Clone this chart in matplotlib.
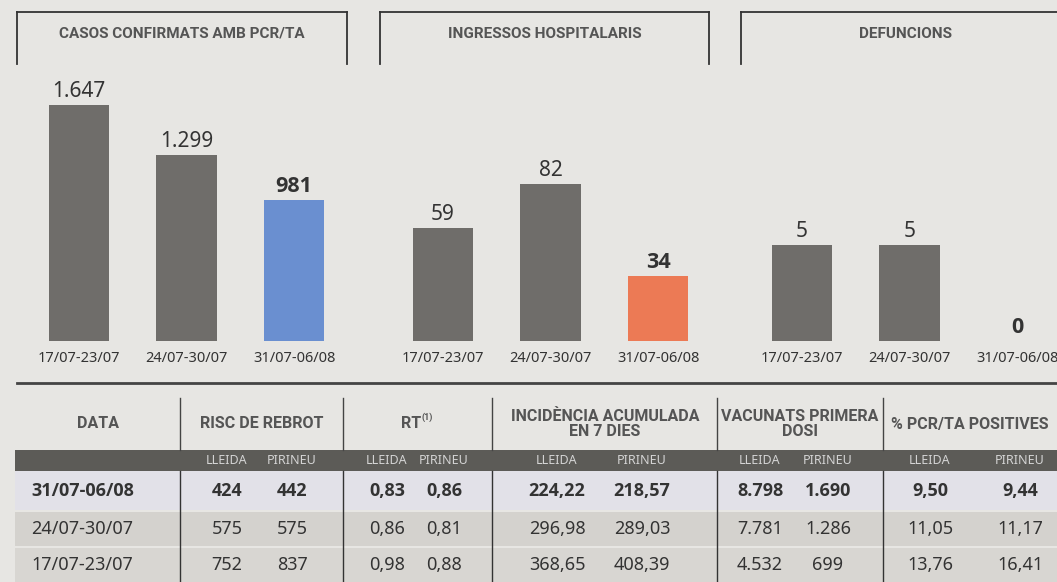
import matplotlib.pyplot as plt
from matplotlib.patches import Rectangle

# Data
weeks = ['17/07-23/07', '24/07-30/07', '31/07-06/08']
casos = [1647, 1299, 981]
ingressos = [59, 82, 34]
defuncions = [5, 5, 0]

casos_lbl = ['1.647', '1.299', '981']
ingressos_lbl = ['59', '82', '34']
defuncions_lbl = ['5', '5', '0']

row_dates = ['31/07-06/08', '24/07-30/07', '17/07-23/07']
risc_lleida = ['424', '575', '752']
risc_pirineu = ['442', '575', '837']
rt_lleida = ['0,83', '0,86', '0,98']
rt_pirineu = ['0,86', '0,81', '0,88']
ia_lleida = ['224,22', '296,98', '368,65']
ia_pirineu = ['218,57', '289,03', '408,39']
vac_lleida = ['8.798', '7.781', '4.532']
vac_pirineu = ['1.690', '1.286', '699']
pcr_lleida = ['9,50', '11,05', '13,76']
pcr_pirineu = ['9,44', '11,17', '16,41']

W, H = 1057, 582
paper = '#e7e6e3'
grey_bar = '#6f6d6a'
txt = '#333333'
head_font = ['Roboto', 'DejaVu Sans']
body_font = ['Noto Sans', 'DejaVu Sans']
bold_font = ['Open Sans', 'DejaVu Sans']


def body_kw(bold, size):
    # Noto Sans has no bold here, so bold text uses Open Sans
    if bold:
        return dict(fontsize=size, fontweight='bold', family=bold_font, color=txt)
    return dict(fontsize=size, fontweight='normal', family=body_font, color=txt)


fig = plt.figure(figsize=(W / 100, H / 100), dpi=100, facecolor=paper)

# background axes in pixel coordinates
bg = fig.add_axes([0, 0, 1, 1])
bg.set_xlim(0, W)
bg.set_ylim(H, 0)
bg.axis('off')
bg.set_facecolor(paper)

# panel brackets and titles
brackets = [(17, 347, True), (380, 709, True), (741, 1075, False)]
titles = ['CASOS CONFIRMATS AMB PCR/TA', 'INGRESSOS HOSPITALARIS', 'DEFUNCIONS']
title_x = [182, 545, 906]
for (x0, x1, right), t, tx in zip(brackets, titles, title_x):
    bg.plot([x0, x1], [12, 12], color='#333333', lw=1.3)
    bg.plot([x0, x0], [12, 64], color='#333333', lw=1.3)
    if right:
        bg.plot([x1, x1], [12, 64], color='#333333', lw=1.3)
    bg.text(tx, 34, t, ha='center', va='center', fontsize=11,
            fontweight='bold', color='#555555', family=head_font)

# bar panels
panels = [
    (25, casos, casos_lbl, 1961, '#6a8fd0'),
    (389, ingressos, ingressos_lbl, 146.7, '#ec7a55'),
    (748, defuncions, defuncions_lbl, 14.63, grey_bar),
]
for left, vals, lbls, ytop, last_col in panels:
    ax = fig.add_axes([left / W, (H - 341) / H, 323 / W, (341 - 60) / H])
    ax.patch.set_alpha(0)
    colors = [grey_bar, grey_bar, last_col]
    bars = ax.bar(range(3), vals, width=0.56, color=colors)
    ax.set_xlim(-0.5, 2.5)
    ax.set_ylim(0, ytop)
    for i, (b, l) in enumerate(zip(bars, lbls)):
        bold = i == 2
        ax.annotate(l, (b.get_x() + b.get_width() / 2, b.get_height()),
                    xytext=(0, 8), textcoords='offset pixels',
                    ha='center', va='baseline',
                    **body_kw(bold, 15.5 if bold else 15))
    ax.set_xticks(range(3), weeks, fontsize=10.5, color='#333333',
                  family=body_font)
    ax.tick_params(length=0, pad=7)
    ax.set_yticks([])
    for s in ax.spines.values():
        s.set_visible(False)

# table
bg.plot([17, W], [383, 383], color='#444444', lw=2)
seps = [180, 343, 492, 717, 883]
for x in seps:
    bg.plot([x, x], [398, 450], color='#444444', lw=1)

heads = [(98, 'DATA'), (262, 'RISC DE REBROT'), (605, 'INCIDÈNCIA ACUMULADA\nEN 7 DIES'),
         (800, 'VACUNATS PRIMERA\nDOSI'), (970, '% PCR/TA POSITIVES')]
for x, t in heads:
    bg.text(x, 424, t, ha='center', va='center', fontsize=11.5, fontweight='bold',
            color='#555555', family=head_font, linespacing=1.0)
bg.text(421, 424, 'RT', ha='right', va='center', fontsize=11.5, fontweight='bold',
        color='#555555', family=head_font)
bg.text(422, 417, '(1)', ha='left', va='center', fontsize=6.5, fontweight='bold',
        color='#555555', family=head_font)

# dark band with sub headers
bg.add_patch(Rectangle((15, 450), W - 15, 21, color='#5c5b57', lw=0))
sub_x = [(227, 292), (387, 444), (557, 642), (760, 828), (930, 1020)]
for lx, px in sub_x:
    bg.text(lx, 461, 'LLEIDA', ha='center', va='center', fontsize=9,
            color='#d4d4d4', family=body_font)
    bg.text(px, 461, 'PIRINEU', ha='center', va='center', fontsize=9,
            color='#d4d4d4', family=body_font)

# rows
row_y = [(471, 510), (512, 546), (548, 582)]
row_col = ['#e2e1e8', '#d4d2ce', '#d8d6d2']
cols = [(risc_lleida, risc_pirineu), (rt_lleida, rt_pirineu), (ia_lleida, ia_pirineu),
        (vac_lleida, vac_pirineu), (pcr_lleida, pcr_pirineu)]
for r, ((y0, y1), c) in enumerate(zip(row_y, row_col)):
    bg.add_patch(Rectangle((15, y0), W - 15, y1 - y0, color=c, lw=0))
    yc = (y0 + y1) / 2
    kw = body_kw(r == 0, 13)
    bg.text(31, yc, row_dates[r], ha='left', va='center', **kw)
    for (lv, pv), (lx, px) in zip(cols, sub_x):
        bg.text(lx, yc, lv[r], ha='center', va='center', **kw)
        bg.text(px, yc, pv[r], ha='center', va='center', **kw)
for x in seps:
    bg.plot([x, x], [471, H], color='#333333', lw=1)

fig.savefig('out.png', dpi=100, facecolor=paper)
